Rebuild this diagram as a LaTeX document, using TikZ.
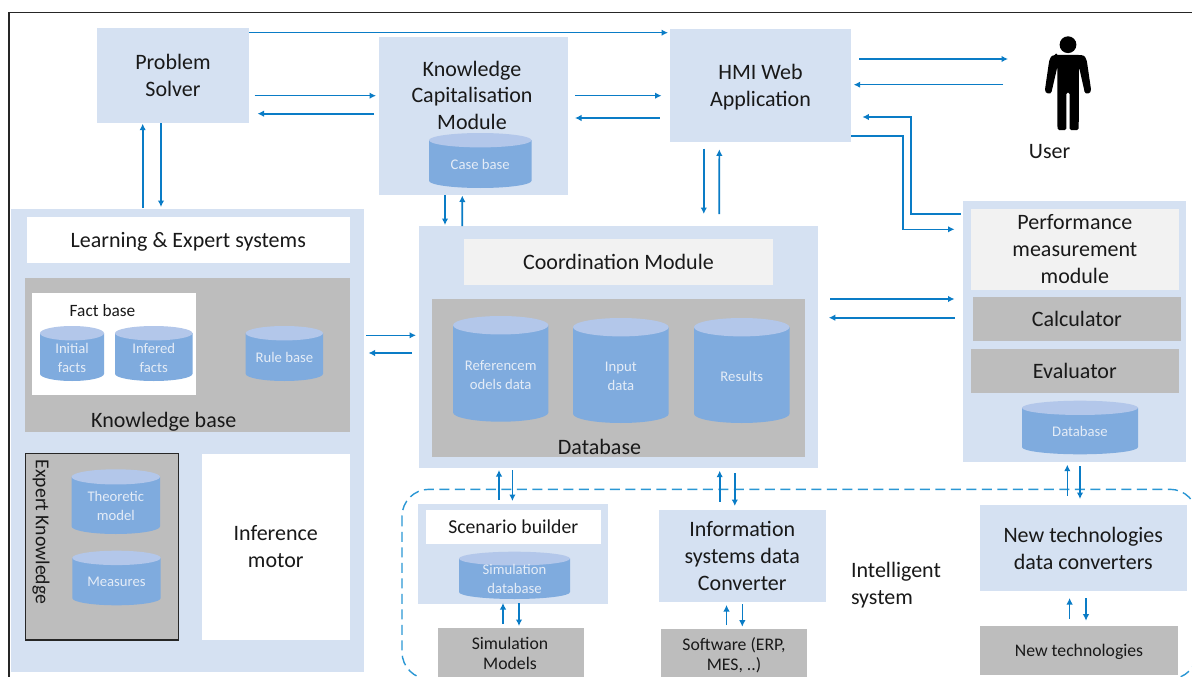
\documentclass[tikz,border=0pt]{standalone}
\usepackage{fontspec}
\setmainfont{Carlito}
\usetikzlibrary{arrows.meta,calc}
\definecolor{lightb}{HTML}{D5E1F2}
\definecolor{panelg}{HTML}{BDBDBD}
\definecolor{offw}{HTML}{F2F2F2}
\definecolor{cylbody}{HTML}{7FABDE}
\definecolor{cyltop}{HTML}{B3C7EA}
\definecolor{cyltxt}{HTML}{E4ECF7}
\definecolor{arrowb}{HTML}{0A7CC6}
\definecolor{dashb}{HTML}{2A97D4}
\tikzset{
  basebox/.style={inner sep=0pt,outer sep=0pt,align=center,text=black!90,font=\fontsize{22}{27}\selectfont},
  bluebox/.style={basebox,fill=lightb},
  whitebox/.style={basebox,fill=white},
  offbox/.style={basebox,fill=offw},
  greybox/.style={basebox,fill=panelg},
  smalltxt/.style={font=\fontsize{17.7}{20}\selectfont},
  label/.style={inner sep=0pt,outer sep=0pt,align=center,text=black!90,font=\fontsize{22}{26.5}\selectfont},
  cyltext/.style={inner sep=0pt,outer sep=0pt,align=center,text=cyltxt,font=\fontsize{14.7}{19}\selectfont},
  link/.style={draw=arrowb,line width=1.6pt,-{Latex[length=6.5pt,width=6.5pt]}},
}
\newcommand{\lowered}[1]{\raisebox{-2.3pt}[\height][\depth]{\begin{tabular}{@{}c@{}}#1\end{tabular}}}
\newcommand{\bx}[7][]{%
  \pgfmathsetmacro\ww{#5-#3}\pgfmathsetmacro\hh{#6-#4}%
  \pgfmathsetmacro\cx{(#3+#5)/2}\pgfmathsetmacro\cy{(#4+#6)/2}%
  \node[#1,minimum width=\ww pt,minimum height=\hh pt] (#2) at (\cx,\cy) {\lowered{#7}};}
\newcommand{\cyl}[6]{%
  \pgfmathsetmacro\rx{(#4-#2)/2}\pgfmathsetmacro\hh{#5-#3}\pgfmathsetmacro\ry{5+0.04*\hh}%
  \pgfmathsetmacro\cx{(#2+#4)/2}\pgfmathsetmacro\ya{#3+\ry}\pgfmathsetmacro\yb{#5-\ry}%
  \pgfmathsetmacro\cy{(#3+\ry+#5)/2+0.5+0.02*(\hh-50)}\pgfmathsetmacro\ww{#4-#2}\pgfmathsetmacro\nh{#5-#3-\ry}%
  \fill[cylbody] (#2,\ya) -- (#2,\yb) arc[start angle=180,end angle=0,x radius=\rx,y radius=\ry] -- (#4,\ya) -- cycle;
  \fill[cyltop] (\cx,\ya) ellipse[x radius=\rx,y radius=\ry];
  \node[cyltext,minimum width=\ww pt,minimum height=\nh pt] (#1) at (\cx,\cy) {#6};}
\begin{document}
\begin{tikzpicture}[x=1pt,y=-1pt]
\path[use as bounding box,clip] (0,0) rectangle (1192,677);
\fill[white] (0,0) rectangle (1192,677);
% outer frame
\draw[black!85,line width=1.8pt] (8.7,680) -- (8.7,12.5) -- (1195,12.5);
% intelligent system boundary
\draw[dashb,line width=1.4pt,dash pattern=on 10pt off 5.5pt,rounded corners=27pt] (402,489.3) rectangle (1197,679);

% top row
\bx[bluebox]{ps}{97}{28}{249}{123}{Problem\\Solver}
\bx[bluebox]{kc}{379}{37}{568}{195}{}
\node[label] (kct) at (472,95) {Knowledge\\Capitalisation\\Module};
\cyl{cb}{429}{133}{531.5}{188}{Case base}
\bx[bluebox]{hmi}{670}{29}{851}{142}{HMI Web\\Application}

% user
\coordinate (user) at (1068,84);
\fill[black] (1068,44.7) ellipse[x radius=8.4,y radius=8.4];
\fill[black,rounded corners=1.5pt] (1056,55) -- (1080,55) .. controls (1085,55.5) and (1086,58) .. (1087,62) -- (1090.8,88) .. controls (1091.5,94) and (1085,95) .. (1084.2,90) -- (1079,67) -- (1078.7,130) -- (1069.7,130) -- (1069.7,92.5) -- (1066.3,92.5) -- (1066.3,130) -- (1057.5,130) -- (1057.3,67) -- (1052,90) .. controls (1051,95) and (1044.5,94) .. (1045.2,88) -- (1049,62) .. controls (1050,58) and (1051,55.5) .. (1056,55) -- cycle;
\node[label] (usert) at (1049.6,152) {User};

% learning and expert systems
\bx[bluebox]{les}{11}{209}{364}{672}{}
\bx[whitebox]{lest}{27}{217}{349.5}{262.5}{Learning \& Expert systems}
\bx[greybox]{kb}{25}{278}{349.5}{432}{}
\bx[whitebox]{fb}{31.5}{292.5}{196}{394.5}{}
\node[label,font=\fontsize{17.3}{20}\selectfont] (fbt) at (102.5,311) {Fact base};
\cyl{ifacts}{40}{326}{104}{381}{Initial\\facts}
\cyl{inf}{115}{326}{192.5}{381}{Infered\\facts}
\cyl{rb}{245.7}{326}{323}{381}{Rule base}
\node[label] (kbt) at (163.8,422) {Knowledge base};
\bx[greybox,draw=black!85,line width=1.3pt]{ek}{25.5}{453.5}{178.7}{640}{}
\node[label,font=\fontsize{19.7}{22}\selectfont,rotate=-90] (ekt) at (41,532) {Expert Knowledge};
\cyl{tm}{71.6}{469.3}{160}{534}{Theoretic\\model}
\cyl{me}{72.3}{550.7}{160.7}{605.3}{Measures}
\bx[whitebox]{im}{202}{453.5}{349.5}{640}{Inference\\motor}

% coordination
\bx[bluebox]{co}{419}{226}{817.5}{468}{}
\bx[offbox]{cot}{464}{239}{773}{285}{Coordination Module}
\bx[greybox]{dbp}{432}{299.3}{805.4}{456.7}{}
\cyl{ref}{453}{316}{548.4}{421.7}{Referencem\\odels data}
\cyl{inp}{573}{318}{668.7}{423}{Input\\data}
\cyl{res}{694}{318}{789.5}{423}{Results}
\node[label] (dbt) at (599.5,446.8) {Database};

% performance
\bx[bluebox]{pm}{963}{200.5}{1185.5}{462}{}
\bx[offbox]{pmt}{971}{208.5}{1178.7}{289.7}{Performance\\measurement\\module}
\bx[greybox]{calc}{973}{296.5}{1180.6}{341}{Calculator}
\bx[greybox]{eva}{971}{348.7}{1178.7}{393.3}{Evaluator}
\cyl{pdb}{1022}{400.7}{1138}{454.3}{Database}

% intelligent system contents
\bx[bluebox]{sb}{418}{503.5}{607.5}{604}{}
\bx[whitebox,font=\fontsize{19.7}{22}\selectfont]{sbt}{426}{510}{600.5}{544}{Scenario builder}
\cyl{sdb}{459}{551.7}{570}{599}{Simulation\\database}
\bx[greybox,smalltxt]{sm}{437.5}{628}{583.5}{700}{}
\node[label,smalltxt] (smt) at (510,653.2) {Simulation\\Models};
\bx[bluebox]{is}{659}{510}{825.5}{602}{Information\\systems data\\Converter}
\bx[greybox,smalltxt]{sw}{661}{629}{807}{700}{}
\node[label,smalltxt] (swt) at (734,655) {Software (ERP,\\MES, ..)};
\node[label,anchor=west,align=left,font=\fontsize{22}{27}\selectfont] (ist) at (851,585.5) {Intelligent\\system};
\bx[bluebox]{nc}{980}{505}{1186.5}{591}{New technologies\\data converters}
\bx[greybox,smalltxt]{nt}{980}{626}{1178}{675}{New technologies}

% connectors
\draw[link] ([shift={(0,-42.8)}]ps.east) -- ([shift={(-2,-52.8)}]hmi.west);
\draw[link] ([shift={(5.5,20.2)}]ps.east) -- ([shift={(-3,-20.3)}]kc.west);
\draw[link] ([shift={(-5,-2.3)}]kc.west) -- ([shift={(8.5,38.2)}]ps.east);
\draw[link] ([shift={(-44.8,-1)}]les.north) -- ([shift={(-30.3,0.7)}]ps.south);
\draw[link] ([shift={(-12,0)}]ps.south) -- ([shift={(-26.5,-2)}]les.north);
\draw[link] ([shift={(-28.5,0)}]kc.south) -- ([shift={(-173.25,-1)}]co.north);
\draw[link] ([shift={(-156,0)}]co.north) -- ([shift={(-11.2,0.5)}]kc.south);
\draw[link] ([shift={(7,-20.3)}]kc.east) -- ([shift={(-8.5,10.2)}]hmi.west);
\draw[link] ([shift={(-10.4,32.5)}]hmi.west) -- ([shift={(7,2)}]kc.east);
\draw[link] ([shift={(8,-26.5)}]hmi.east) -- ([shift={(-60,-25)}]user);
\draw[link] ([shift={(-65,0.7)}]user) -- ([shift={(2.7,-0.8)}]hmi.east);
\draw[link] ([shift={(-56.7,6.7)}]hmi.south) -- ([shift={(85.55,-12)}]co.north);
\draw[link] ([shift={(101,-12)}]co.north) -- ([shift={(-41.2,7.3)}]hmi.south);
\draw[link] ([shift={(-2.5,-117.55)}]pm.west) -- ++(-49.8,0) |- ([shift={(11.4,31.5)}]hmi.east);
\draw[link] ([shift={(0,50.2)}]hmi.east) -- ++(52,0) |- ([shift={(-8.5,-101.95)}]pm.west);
\draw[link] ([shift={(12.5,-48)}]co.east) -- ([shift={(-8.5,-32.25)}]pm.west);
\draw[link] ([shift={(-8.2,-13.55)}]pm.west) -- ([shift={(11.3,-29.3)}]co.east);
\draw[link] ([shift={(2,-105.2)}]les.east) -- ([shift={(-3,-11.7)}]co.west);
\draw[link] ([shift={(-7,6)}]co.west) -- ([shift={(4.5,-87.5)}]les.east);
\draw[link] ([shift={(-13.75,-3.5)}]sb.north) -- ([shift={(-119.25,2)}]co.south);
\draw[link] ([shift={(-105.85,2)}]co.south) -- ([shift={(-0.35,-2.5)}]sb.north);
\draw[link] ([shift={(-22.55,-8.3)}]is.north) -- ([shift={(101.45,2.7)}]co.south);
\draw[link] ([shift={(116.55,5)}]co.south) -- ([shift={(-7.45,-4)}]is.north);
\draw[link] ([shift={(-15.95,-9.3)}]nc.north) -- ([shift={(-6.95,2.7)}]pm.south);
\draw[link] ([shift={(5.75,4)}]pm.south) -- ([shift={(-3.25,-6)}]nc.north);
\draw[link] ([shift={(-7.5,-4)}]sm.north) -- ([shift={(-9.75,-1)}]sb.south);
\draw[link] ([shift={(6.25,-1)}]sb.south) -- ([shift={(8.5,-2)}]sm.north);
\draw[link] ([shift={(-7.5,-4)}]sw.north) -- ([shift={(-15.75,3)}]is.south);
\draw[link] ([shift={(0.05,2)}]is.south) -- ([shift={(8.3,-2.3)}]sw.north);
\draw[link] ([shift={(-9.4,-7.3)}]nt.north) -- ([shift={(-13.65,7)}]nc.south);
\draw[link] ([shift={(2.75,7)}]nc.south) -- ([shift={(7,-5.3)}]nt.north);
\end{tikzpicture}
\end{document}
